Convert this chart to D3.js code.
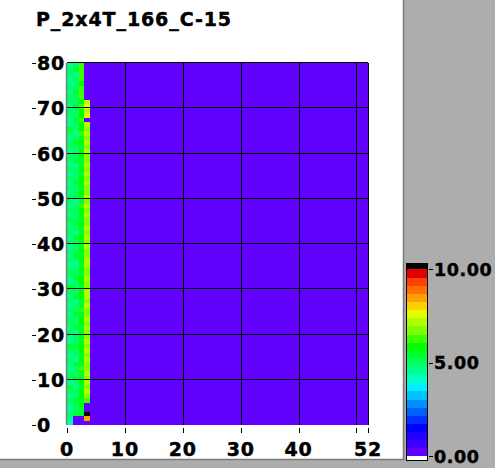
<!DOCTYPE html>
<html>
<head>
<meta charset="utf-8">
<script src="https://cdn.jsdelivr.net/npm/d3@7"></script>
<style>
  body { margin: 0; background: #adadad; }
  svg text { font-family: "DejaVu Sans", Verdana, sans-serif; font-weight: bold; fill: #000;
             stroke: #000; stroke-width: 0.45px; }
</style>
</head>
<body>
<div id="chart"></div>
<script>

const FRAME_WIDTH = 495;
const FRAME_HEIGHT = 468;

const TITLE = "P_2x4T_166_C-15";

// grid size of the map
const N_COLS = 52;
const N_ROWS = 80;

// value of the cells outside the measured strip (x >= 4)
const BASE_VALUE = 0.3;

// measured strip, one array per column, row 0 = bottom
const col0 = [4.3,4.4,5.2,4.7,4.5,5.1,4.6,4.9,5.3,4.6,
              4.8,5.2,4.5,4.7,5.0,4.6,4.9,5.3,4.7,4.5,
              5.0,4.6,4.8,5.2,4.5,4.9,4.7,5.1,4.6,4.8,
              5.3,4.7,4.5,5.0,4.8,4.6,5.2,4.7,4.9,4.5,
              5.1,4.6,4.8,5.0,4.7,5.3,4.5,4.9,4.6,5.1,
              4.8,4.5,5.2,4.7,4.9,4.6,5.0,4.4,4.8,5.2,
              4.6,4.9,5.1,4.5,4.8,5.3,4.6,4.7,5.0,4.9,
              4.5,5.2,4.8,4.6,5.0,4.7,4.4,5.1,4.9,4.6];
const col1 = [0.3,0.3,5.6,5.0,4.8,5.4,4.9,5.2,4.7,5.1,
              5.3,4.8,5.0,5.4,4.7,5.1,4.9,5.5,4.8,5.2,
              4.7,5.3,5.0,4.8,5.4,4.9,5.1,4.7,5.3,5.0,
              4.8,5.2,5.5,4.9,5.1,4.7,5.0,5.4,4.8,5.2,
              4.9,5.3,4.7,5.1,5.5,4.8,5.0,5.2,4.9,4.7,
              5.3,5.1,4.8,5.4,5.0,4.9,5.2,4.7,5.5,4.9,
              5.1,4.8,5.3,5.0,4.7,5.2,4.9,5.4,4.8,5.1,
              5.3,4.9,5.0,5.5,4.8,5.2,5.0,4.7,5.3,5.1];
const col2 = [0.3,0.3,5.4,5.6,5.9,5.3,5.7,6.0,5.5,5.8,
              5.4,5.6,6.1,5.5,5.8,5.3,5.7,5.9,5.5,6.0,
              5.6,5.4,5.8,5.7,5.5,6.1,5.6,5.3,5.9,5.7,
              5.5,5.8,6.0,5.4,5.7,5.6,5.9,5.5,5.8,5.3,
              5.7,6.0,5.5,5.6,5.9,5.4,5.8,5.7,6.1,5.5,
              5.6,5.9,5.4,5.8,5.7,5.5,6.0,5.6,5.3,5.8,
              5.7,5.5,5.9,5.6,6.2,5.7,5.9,6.3,5.8,6.0,
              6.2,5.9,6.4,6.1,6.3,6.0,6.4,6.2,6.5,6.3];
const col3 = [0.3,8.6,10.6,0.3,0.3,6.3,6.9,7.2,6.6,7.0,
              6.8,7.1,6.7,6.9,7.2,6.8,7.0,6.6,7.1,6.9,
              6.7,7.2,6.8,7.0,6.9,6.6,7.1,6.8,7.0,7.2,
              6.7,6.9,7.1,6.8,6.6,7.0,7.2,6.9,6.7,7.1,
              6.8,7.0,6.9,7.2,6.7,6.8,7.1,6.9,7.0,6.6,
              7.2,6.8,6.9,7.1,6.7,7.0,6.8,7.2,6.9,6.7,
              7.0,6.8,7.1,6.9,7.2,6.8,7.0,0.3,7.4,7.2,
              7.5,7.1,0.3,0.3,0.3,0.3,0.3,0.3,0.3,0.3];
const STRIP = [col0, col1, col2, col3];

const X_TICKS = [0, 10, 20, 30, 40, 50, 52];
const X_LABELS = [0, 10, 20, 30, 40, 52];
const Y_TICKS = [0, 10, 20, 30, 40, 50, 60, 70, 80];

// colour bins from 0 to 10, low to high
const COLORS = ["#6000ff","#4000ff","#2000ff","#0000ff","#0030ff","#0060ff",
                "#0090ff","#00c0ff","#00f0ff","#00ffc0","#00ff90","#00ff60",
                "#00ff30","#00ff00","#40ff00","#80ff00","#b0ff00","#e0ff00",
                "#ffd000","#ffa000","#ff7000","#ff4000","#e00000"];
const CB_TICKS = [0, 5, 10];

const COLOR = d3.scaleQuantize().domain([0, 10]).range(COLORS);
function cellColor(v) {
  if (v < 0) return "#ffffff";
  if (v > 10) return "#000000";
  return COLOR(v);
}

const svg = d3.select("#chart")
              .append("svg")
                .attr("width", FRAME_WIDTH)
                .attr("height", FRAME_HEIGHT);

// white panel
svg.append("rect")
   .attr("x", 0).attr("y", 0)
   .attr("width", 403).attr("height", 459)
   .attr("fill", "#ffffff");
svg.append("path")
   .attr("d", "M403.5,0V459.5H0")
   .attr("fill", "none")
   .attr("stroke", "#7a7a7a")
   .attr("stroke-width", 1.5);

svg.append("text")
   .attr("x", 36).attr("y", 26)
   .attr("font-size", "19px")
   .attr("letter-spacing", "0.9px")
   .text(TITLE);

const X_SCALE = d3.scaleLinear().domain([0, N_COLS]).range([67, 368]);
const Y_SCALE = d3.scaleLinear().domain([0, N_ROWS]).range([425, 63]);

// all cells
let cells = [];
for (let r = 0; r < N_ROWS; r++) {
  for (let c = 0; c < N_COLS; c++) {
    cells.push({c: c, r: r, v: c < STRIP.length ? STRIP[c][r] : BASE_VALUE});
  }
}

svg.append("g")
   .attr("shape-rendering", "crispEdges")
   .selectAll("rect")
   .data(cells)
   .enter()
   .append("rect")
     .attr("x", (d) => X_SCALE(d.c))
     .attr("y", (d) => Y_SCALE(d.r + 1))
     .attr("width", (d) => X_SCALE(d.c + 1) - X_SCALE(d.c) + 0.3)
     .attr("height", (d) => Y_SCALE(d.r) - Y_SCALE(d.r + 1) + 0.3)
     .attr("fill", (d) => cellColor(d.v));

// grid lines
const grid = svg.append("g").attr("stroke", "#000").attr("stroke-width", 1)
                .attr("shape-rendering", "crispEdges");
grid.selectAll("line.vx")
    .data(X_TICKS.filter((d) => d > 0))
    .enter()
    .append("line")
      .attr("x1", (d) => Math.round(X_SCALE(d)) + 0.5)
      .attr("x2", (d) => Math.round(X_SCALE(d)) + 0.5)
      .attr("y1", Y_SCALE(N_ROWS))
      .attr("y2", Y_SCALE(0));
grid.selectAll("line.hy")
    .data(Y_TICKS.filter((d) => d > 0))
    .enter()
    .append("line")
      .attr("x1", X_SCALE(0))
      .attr("x2", X_SCALE(N_COLS))
      .attr("y1", (d) => Math.round(Y_SCALE(d)) - 0.5)
      .attr("y2", (d) => Math.round(Y_SCALE(d)) - 0.5);
svg.append("line")
   .attr("x1", X_SCALE(0) - 0.5).attr("x2", X_SCALE(0) - 0.5)
   .attr("y1", Y_SCALE(N_ROWS)).attr("y2", Y_SCALE(0))
   .attr("stroke", "#808080").attr("stroke-width", 1.5);

// x axis ticks and labels
svg.selectAll("line.xt")
   .data(X_TICKS)
   .enter()
   .append("line")
     .attr("x1", (d) => Math.round(X_SCALE(d)) + 0.5)
     .attr("x2", (d) => Math.round(X_SCALE(d)) + 0.5)
     .attr("y1", 428).attr("y2", 433)
     .attr("stroke", "#000");
svg.selectAll("text.xl")
   .data(X_LABELS)
   .enter()
   .append("text")
     .attr("x", (d) => X_SCALE(d))
     .attr("y", 456)
     .attr("text-anchor", "middle")
     .attr("font-size", "19px")
     .attr("letter-spacing", "0.8px")
     .text((d) => d);

// y axis ticks and labels
svg.selectAll("line.yt")
   .data(Y_TICKS)
   .enter()
   .append("line")
     .attr("x1", 32).attr("x2", 36)
     .attr("y1", (d) => Math.round(Y_SCALE(d)) + 0.5)
     .attr("y2", (d) => Math.round(Y_SCALE(d)) + 0.5)
     .attr("stroke", "#000");
svg.selectAll("text.yl")
   .data(Y_TICKS)
   .enter()
   .append("text")
     .attr("x", 37)
     .attr("y", (d) => Y_SCALE(d) + 7)
     .attr("font-size", "19px")
     .attr("letter-spacing", "0.8px")
     .text((d) => d);

// colour bar
const CB_SCALE = d3.scaleLinear().domain([0, 10]).range([456, 269]);
const cb = svg.append("g").attr("shape-rendering", "crispEdges");
cb.selectAll("rect")
  .data(COLORS)
  .enter()
  .append("rect")
    .attr("x", 407)
    .attr("y", (d, i) => CB_SCALE((i + 1) * 10 / COLORS.length))
    .attr("width", 20)
    .attr("height", (d, i) => CB_SCALE(i * 10 / COLORS.length) - CB_SCALE((i + 1) * 10 / COLORS.length) + 0.5)
    .attr("fill", (d) => d);
cb.append("rect")
  .attr("x", 407).attr("y", 264).attr("width", 20).attr("height", CB_SCALE(10) - 264)
  .attr("fill", "#000");
cb.append("rect")
  .attr("x", 407).attr("y", CB_SCALE(0)).attr("width", 20).attr("height", 460 - CB_SCALE(0))
  .attr("fill", "#fff");
cb.append("rect")
  .attr("x", 406.5).attr("y", 263.5).attr("width", 21).attr("height", 197)
  .attr("fill", "none").attr("stroke", "#000");

svg.selectAll("line.cbt")
   .data(CB_TICKS)
   .enter()
   .append("line")
     .attr("x1", 429).attr("x2", 433)
     .attr("y1", (d) => Math.round(CB_SCALE(d)) + 0.5)
     .attr("y2", (d) => Math.round(CB_SCALE(d)) + 0.5)
     .attr("stroke", "#000");
svg.selectAll("text.cbl")
   .data(CB_TICKS)
   .enter()
   .append("text")
     .attr("x", 434)
     .attr("y", (d) => CB_SCALE(d) + 6.5)
     .attr("font-size", "17.5px")
     .attr("letter-spacing", "0.6px")
     .text((d) => d.toFixed(2));

</script>
</body>
</html>
